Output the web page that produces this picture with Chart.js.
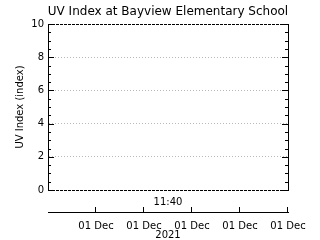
<!DOCTYPE html>
<html>
<head>
<meta charset="utf-8">
<script src="https://cdn.jsdelivr.net/npm/chart.js@4/dist/chart.umd.min.js"></script>
<style>
  html, body { margin: 0; padding: 0; background: #fff; }
  #wrap { width: 320px; height: 240px; }
</style>
</head>
<body>
<div id="wrap"><canvas id="myChart" width="320" height="240"></canvas></div>
<script>
// chart data (no UV readings shown in the picture)
const chartTitle = 'UV Index at Bayview Elementary School';
const yTitle = 'UV Index (index)';
const xTimeLabel = '11:40';
const xYearLabel = '2021';
const xTickLabels = ['', '01 Dec', '01 Dec', '01 Dec', '01 Dec', '01 Dec'];
const uvValues = [];
const yMin = 0, yMax = 10, yStep = 2, yMinorStep = 0.5;

const font = 'DejaVu Sans';

// ticks pointing inward on left/right axes, upward on the date axis,
// dashed top/bottom frame, plus the title
const axisDeco = {
    id: 'axisDeco',
    afterDraw(chart) {
        const ctx = chart.ctx;
        const y = chart.scales.y;
        const x2 = chart.scales.x2;
        const area = chart.chartArea;
        ctx.save();
        ctx.strokeStyle = '#000';
        ctx.lineWidth = 1;

        // dashed top and bottom of the frame
        ctx.setLineDash([3, 1]);
        ctx.beginPath();
        const top = Math.round(y.getPixelForValue(yMax)) + 0.5;
        const bot = Math.round(y.getPixelForValue(yMin)) + 0.5;
        ctx.moveTo(area.left, top); ctx.lineTo(area.right, top);
        ctx.moveTo(area.left, bot); ctx.lineTo(area.right, bot);
        ctx.stroke();
        ctx.setLineDash([]);

        ctx.beginPath();
        for (let v = yMin; v <= yMax; v += yMinorStep) {
            const py = Math.round(y.getPixelForValue(v)) + 0.5;
            const len = (v % yStep === 0) ? 6 : 3;
            ctx.moveTo(area.left, py); ctx.lineTo(area.left + len, py);
            ctx.moveTo(area.right, py); ctx.lineTo(area.right - len, py);
        }
        for (let i = 1; i < xTickLabels.length; i++) {
            const px = Math.round(x2.getPixelForValue(i)) - 0.5;
            ctx.moveTo(px, x2.top); ctx.lineTo(px, x2.top - 5);
        }
        ctx.stroke();

        ctx.fillStyle = '#000';
        ctx.font = '12px "' + font + '"';
        ctx.textAlign = 'center';
        ctx.textBaseline = 'middle';
        ctx.fillText(chartTitle, (area.left + area.right) / 2, 12);
        ctx.restore();
    }
};

const ctx = document.getElementById('myChart');

new Chart(ctx, {
    type: 'line',
    data: {
        datasets: [{
            label: 'UV Index',
            data: uvValues,
            xAxisID: 'x',
            yAxisID: 'y',
            borderColor: '#000',
            borderWidth: 1,
            pointRadius: 0
        }]
    },
    options: {
        responsive: false,
        animation: false,
        events: [],
        layout: { padding: { top: 24, right: 0, bottom: 0, left: 0 } },
        plugins: {
            legend: { display: false },
            title: { display: false },
            tooltip: { enabled: false }
        },
        scales: {
            y: {
                type: 'linear',
                position: 'left',
                min: yMin,
                max: yMax,
                afterFit: s => { s.width = 48; },
                ticks: {
                    stepSize: yStep,
                    color: '#000',
                    padding: 4,
                    font: { family: font, size: 10 }
                },
                grid: {
                    drawTicks: false,
                    color: c => (c.tick && (c.tick.value === yMin || c.tick.value === yMax)) ? 'rgba(0,0,0,0)' : '#b8b8b8',
                    lineWidth: 1
                },
                border: { display: true, color: '#000', width: 1, dash: [1, 2] },
                title: {
                    display: true,
                    text: yTitle,
                    color: '#000',
                    font: { family: font, size: 10 },
                    padding: { top: 14, bottom: 0 }
                }
            },
            y2: {
                type: 'linear',
                position: 'right',
                min: yMin,
                max: yMax,
                afterFit: s => { s.width = 32; },
                ticks: { display: false },
                grid: { display: false, drawTicks: false },
                border: { display: true, color: '#000', width: 1 }
            },
            xTop: {
                type: 'linear',
                position: 'top',
                min: 0,
                max: 5,
                afterFit: s => { s.height = 0; },
                ticks: { display: false },
                grid: { display: false, drawTicks: false },
                border: { display: false }
            },
            x: {
                type: 'linear',
                position: 'bottom',
                min: 0,
                max: 5,
                afterFit: s => { s.height = 22; },
                ticks: { display: false },
                grid: { display: false, drawTicks: false },
                border: { display: false },
                title: {
                    display: true,
                    text: xTimeLabel,
                    color: '#000',
                    font: { family: font, size: 10, lineHeight: 1.2 },
                    padding: { top: 4, bottom: 4 }
                }
            },
            x2: {
                type: 'linear',
                position: 'bottom',
                min: 0,
                max: 5,
                afterFit: s => { s.height = 28; },
                ticks: {
                    stepSize: 1,
                    autoSkip: false,
                    maxRotation: 0,
                    color: '#000',
                    padding: 8,
                    font: { family: font, size: 10 },
                    callback: v => xTickLabels[v]
                },
                grid: { display: true, drawOnChartArea: false, drawTicks: false, color: 'rgba(0,0,0,0)' },
                border: { display: true, color: '#000', width: 1 },
                title: {
                    display: true,
                    text: xYearLabel,
                    color: '#000',
                    font: { family: font, size: 10, lineHeight: 1 },
                    padding: 0
                }
            }
        }
    },
    plugins: [axisDeco]
});
</script>
</body>
</html>
